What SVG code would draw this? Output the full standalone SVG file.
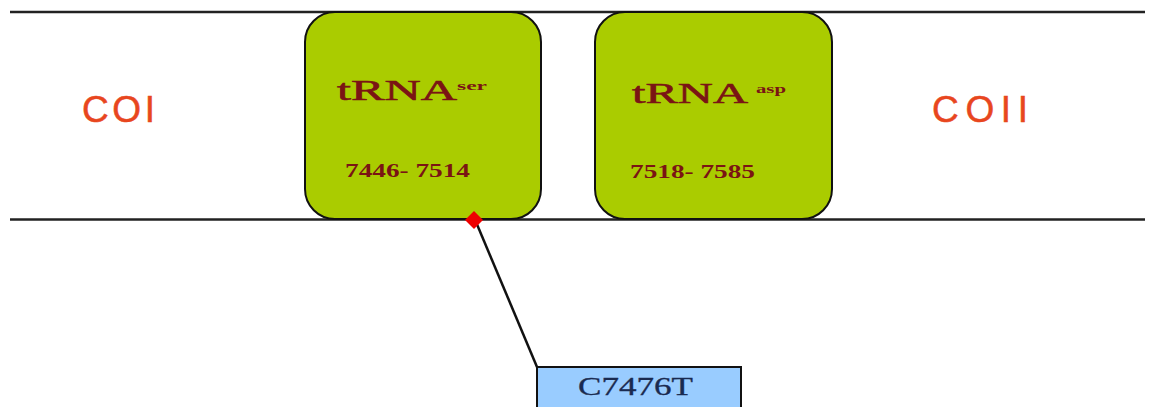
<svg xmlns="http://www.w3.org/2000/svg" width="1152" height="407" viewBox="0 0 1152 407">
<style>
.rail{stroke:#222;stroke-width:2.5;fill:none}
.gene{fill:#aacc00;stroke:#111;stroke-width:2}
.gname{font-family:"Liberation Serif",serif;font-size:30px;fill:#7a1414;stroke:#7a1414;stroke-width:0.6}
.sup{font-family:"Liberation Serif",serif;font-size:13px;font-weight:bold;fill:#7a1414}
.pos{font-family:"Liberation Serif",serif;font-size:18px;font-weight:bold;fill:#7a1414}
.co{font-family:"Liberation Sans",Arial,sans-serif;font-size:37px;fill:#e8461e;stroke:#e8461e;stroke-width:0.5}
.lbl{fill:#99ccff;stroke:#111;stroke-width:2}
.mut{font-family:"Liberation Serif",serif;font-size:25px;fill:#1a2a50;stroke:#1a2a50;stroke-width:0.3}
</style>
<rect width="1152" height="407" fill="#ffffff"/>
<g id="rails">
<line class="rail" x1="10" y1="12" x2="1145" y2="12"/>
<line class="rail" x1="10" y1="219.5" x2="1145" y2="219.5"/>
</g>
<g id="COI"><text class="co" x="82" y="122" textLength="73" lengthAdjust="spacing">COI</text></g>
<g id="COII"><text class="co" x="932" y="122" textLength="96" lengthAdjust="spacing">COII</text></g>
<g id="tRNAser">
<rect class="gene" x="305" y="12" width="236" height="207" rx="30" ry="30"/>
<text class="gname" x="337" y="100" textLength="120" lengthAdjust="spacingAndGlyphs">tRNA</text>
<text class="sup" x="457" y="90" textLength="30" lengthAdjust="spacingAndGlyphs">ser</text>
<text class="pos" x="345" y="177" textLength="125" lengthAdjust="spacingAndGlyphs">7446- 7514</text>
</g>
<g id="tRNAasp">
<rect class="gene" x="595" y="12" width="237" height="207" rx="30" ry="30"/>
<text class="gname" x="632" y="103" textLength="116" lengthAdjust="spacingAndGlyphs">tRNA</text>
<text class="sup" x="756" y="93" textLength="30" lengthAdjust="spacingAndGlyphs">asp</text>
<text class="pos" x="630" y="178" textLength="125" lengthAdjust="spacingAndGlyphs">7518- 7585</text>
</g>
<g id="connectors">
<line x1="476" y1="222" x2="537" y2="367" stroke="#111" stroke-width="2.5"/>
<polygon points="474,211 483,220 474,229 465,220" fill="#ee0000"/>
</g>
<g id="C7476T">
<rect class="lbl" x="537" y="367" width="204" height="50"/>
<text class="mut" x="578" y="395" textLength="115" lengthAdjust="spacingAndGlyphs">C7476T</text>
</g>
</svg>
